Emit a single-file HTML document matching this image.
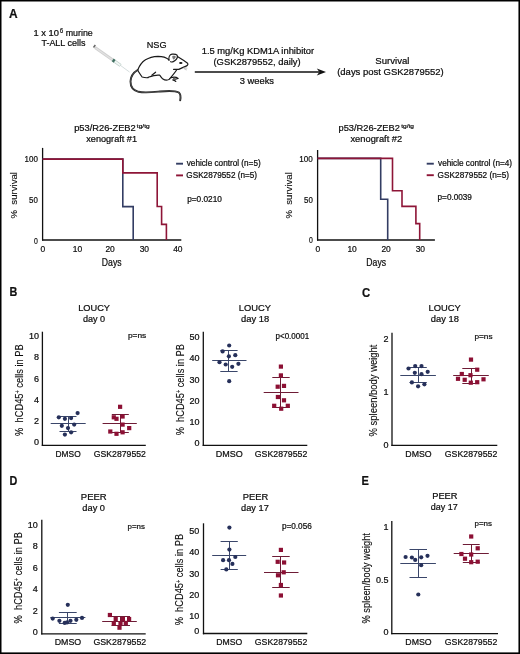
<!DOCTYPE html>
<html><head><meta charset="utf-8"><style>
html,body{margin:0;padding:0;background:#fff;}
body{width:520px;height:654px;overflow:hidden;}
svg{display:block;will-change:transform;}
#w{width:520px;height:654px;}
text{font-family:"Liberation Sans", sans-serif;stroke:currentColor;stroke-width:0.22px;}
</style></head><body>
<div id="w"><svg width="520" height="654" viewBox="0 0 520 654">
<rect width="520" height="654" fill="#fff"/>
<text x="9.09" y="17.50" font-size="13.0" font-weight="bold" fill="#111" color="#111" textLength="8.62" lengthAdjust="spacingAndGlyphs">A</text>
<text x="33.50" y="35.50" font-size="8.6" fill="#0d0d0d" color="#0d0d0d" textLength="25.46" lengthAdjust="spacingAndGlyphs">1 x 10</text>
<text x="59.97" y="33.20" font-size="6.6" fill="#0d0d0d" color="#0d0d0d" textLength="3.14" lengthAdjust="spacingAndGlyphs">6</text>
<text x="65.73" y="35.50" font-size="8.8" fill="#0d0d0d" color="#0d0d0d" textLength="27.08" lengthAdjust="spacingAndGlyphs">murine</text>
<text x="41.42" y="46.30" font-size="9.4" fill="#0d0d0d" color="#0d0d0d" textLength="44.08" lengthAdjust="spacingAndGlyphs">T-ALL cells</text>
<text x="146.72" y="47.60" font-size="9.3" fill="#0d0d0d" color="#0d0d0d" textLength="19.84" lengthAdjust="spacingAndGlyphs">NSG</text>
<text x="201.70" y="53.80" font-size="9.0" fill="#0d0d0d" color="#0d0d0d" textLength="112.49" lengthAdjust="spacingAndGlyphs">1.5 mg/Kg KDM1A inhibitor</text>
<text x="213.49" y="64.60" font-size="9.0" fill="#0d0d0d" color="#0d0d0d" textLength="87.15" lengthAdjust="spacingAndGlyphs">(GSK2879552, daily)</text>
<text x="239.78" y="84.40" font-size="9.0" fill="#0d0d0d" color="#0d0d0d" textLength="34.23" lengthAdjust="spacingAndGlyphs">3 weeks</text>
<text x="375.37" y="63.80" font-size="9.1" fill="#0d0d0d" color="#0d0d0d" textLength="34.12" lengthAdjust="spacingAndGlyphs">Survival</text>
<text x="337.18" y="75.00" font-size="9.1" fill="#0d0d0d" color="#0d0d0d" textLength="106.52" lengthAdjust="spacingAndGlyphs">(days post GSK2879552)</text>
<line x1="194.80" y1="72.00" x2="319.00" y2="72.00" stroke="#111" stroke-width="1.5"/>
<path d="M326,72 L316.8,68.6 L319.4,72 L316.8,75.6 Z" fill="#111"/>
<g stroke-linecap="butt">
<line x1="120" y1="65.1" x2="129.6" y2="72.1" stroke="#d6dede" stroke-width="1"/>
<line x1="95.0" y1="47.5" x2="112.8" y2="60.0" stroke="#cfcfcf" stroke-width="2.8"/>
<line x1="95.6" y1="47.9" x2="112.6" y2="59.9" stroke="#e2e2e2" stroke-width="1.2"/>
<line x1="114.4" y1="61.1" x2="120.6" y2="65.5" stroke="#bfcfca" stroke-width="3.3"/>
<line x1="114.6" y1="61.3" x2="120.3" y2="65.3" stroke="#f3f8f6" stroke-width="1.7"/>
<line x1="112.7" y1="59.9" x2="114.6" y2="61.3" stroke="#3f6f60" stroke-width="3.3"/>
<line x1="93.5" y1="47.5" x2="95.3" y2="45.0" stroke="#666" stroke-width="1.5"/>
</g>
<g fill="none" stroke="#1a1a1a" stroke-width="1.2" stroke-linecap="round" stroke-linejoin="round">
<path d="M137.6,70.2 C139.5,65.5 142,62 145.5,59.8 C149,57.6 153,56.5 158,56.3 C162,56.3 166,57.2 168.8,59.6"/>
<path d="M169,60.4 C168.5,57.4 169.6,54.6 172,54.2 C174.5,53.9 177.5,54.4 177.5,56.4 C177.3,58.6 175.6,60.5 173.3,61.6 C172.3,62.1 171.3,62.1 170.7,61.7"/>
<path d="M177.4,56.6 C180.5,58.5 184.5,61 187.6,63.2 C188.5,64.6 187.2,65.9 185.4,66.4 C183,67.3 181,68.3 178.8,69.4 L173.6,69.4"/>
<path d="M176.6,70 C175,72.6 172.4,75.6 169.6,78.8"/>
<path d="M171.2,77.6 C173.6,77 176.4,77.2 178.2,78.4 C177,79.4 175,79.1 173.6,78.9"/>
<path d="M172.8,79.8 C174.2,80.2 175.6,80.8 175.8,81.5"/>
<path d="M169.8,78.9 C168,80.4 165,80.5 162.6,78.8 C161.2,77.6 160.6,76.2 159.6,75.2 C157.2,74.7 152.4,75.8 148.2,77.3"/>
<path d="M151.8,75.2 L155.6,72.2"/>
<path d="M137.6,70.3 C139,72.5 140.6,75 142.1,77 C144.5,77.7 146.5,77.9 148.2,77.6"/>
</g>
<path d="M172.2,56.2 C173.5,55.4 175.6,55.6 175.8,56.8 C175.6,58.2 174.4,59.2 173.4,59.6 C172.8,58.6 172.2,57.6 172.2,56.2 Z" fill="#777"/>
<path d="M137.6,70.0 C133.5,72.5 130.6,76.5 130.5,81.5 C130.5,86.5 133.5,90.5 138.5,91.8 C145,93.2 153,92.2 160,91.5 C168,90.7 175,90.5 178.8,92.5 C180.6,94 180.8,97 180.2,100.3" fill="none" stroke="#222" stroke-width="1.9" stroke-linecap="round"/>
<path d="M137.6,70.0 C133.5,72.5 130.6,76.5 130.5,81.5 C130.5,86.5 133.5,90.5 138.5,91.8 C145,93.2 153,92.2 160,91.5 C168,90.7 175,90.5 178.8,92.5 C180.6,94 180.8,97 180.2,100.3" fill="none" stroke="#888" stroke-width="0.4"/>
<ellipse cx="180.8" cy="63.0" rx="1.7" ry="0.95" fill="#111"/>
<path d="M183,67.8 L187,69.3 M183.8,67.2 L187.4,68.2 M184,68.6 L186.4,70.2" stroke="#999" stroke-width="0.5" fill="none"/>
<line x1="42.60" y1="147.90" x2="42.60" y2="240.60" stroke="#111" stroke-width="1.3"/>
<line x1="42.00" y1="240.00" x2="181.30" y2="240.00" stroke="#111" stroke-width="1.3"/>
<text x="24.51" y="162.00" font-size="9.4" fill="#0d0d0d" color="#0d0d0d" textLength="13.35" lengthAdjust="spacingAndGlyphs">100</text>
<text x="29.03" y="203.40" font-size="9.4" fill="#0d0d0d" color="#0d0d0d" textLength="8.77" lengthAdjust="spacingAndGlyphs">50</text>
<text x="33.98" y="243.60" font-size="9.4" fill="#0d0d0d" color="#0d0d0d" textLength="3.82" lengthAdjust="spacingAndGlyphs">0</text>
<text x="40.43" y="251.70" font-size="9.4" fill="#0d0d0d" color="#0d0d0d" textLength="4.70" lengthAdjust="spacingAndGlyphs">0</text>
<text x="72.69" y="251.70" font-size="9.4" fill="#0d0d0d" color="#0d0d0d" textLength="9.41" lengthAdjust="spacingAndGlyphs">10</text>
<text x="105.42" y="251.70" font-size="9.4" fill="#0d0d0d" color="#0d0d0d" textLength="9.41" lengthAdjust="spacingAndGlyphs">20</text>
<text x="139.66" y="251.70" font-size="9.4" fill="#0d0d0d" color="#0d0d0d" textLength="9.41" lengthAdjust="spacingAndGlyphs">30</text>
<text x="173.15" y="251.70" font-size="9.4" fill="#0d0d0d" color="#0d0d0d" textLength="9.41" lengthAdjust="spacingAndGlyphs">40</text>
<text x="101.86" y="265.90" font-size="10.1" fill="#0d0d0d" color="#0d0d0d" textLength="19.72" lengthAdjust="spacingAndGlyphs">Days</text>
<text transform="translate(16.50,218.25) rotate(-90)" x="-0.29" y="0" font-size="9.2" fill="#0d0d0d" color="#0d0d0d" style="stroke-width:0.12px" textLength="46.51" lengthAdjust="spacingAndGlyphs" xml:space="preserve">%  survival</text>
<text x="74.19" y="130.90" font-size="8.9" fill="#0d0d0d" color="#0d0d0d" textLength="61.57" lengthAdjust="spacingAndGlyphs">p53/R26-ZEB2</text>
<text x="136.88" y="127.60" font-size="5.9" fill="#0d0d0d" color="#0d0d0d" textLength="12.80" lengthAdjust="spacingAndGlyphs">tg/tg</text>
<text x="86.26" y="142.10" font-size="8.9" fill="#0d0d0d" color="#0d0d0d" textLength="50.74" lengthAdjust="spacingAndGlyphs">xenograft #1</text>
<polyline points="42.60,159.10 122.80,159.10 122.80,206.60 133.20,206.60 133.20,240.00" fill="none" stroke="#333d63" stroke-width="1.6" stroke-linejoin="miter"/>
<polyline points="42.60,159.10 122.80,159.10 122.80,172.90 157.20,172.90 157.20,206.50 161.60,206.50 161.60,224.40 166.40,224.40 166.40,240.00" fill="none" stroke="#8e1537" stroke-width="1.6" stroke-linejoin="miter"/>
<line x1="176.10" y1="163.70" x2="183.00" y2="163.70" stroke="#333d63" stroke-width="1.9"/>
<line x1="176.10" y1="175.40" x2="183.00" y2="175.40" stroke="#8e1537" stroke-width="1.9"/>
<text x="186.75" y="166.10" font-size="8.2" fill="#0d0d0d" color="#0d0d0d" textLength="73.91" lengthAdjust="spacingAndGlyphs">vehicle control (n=5)</text>
<text x="186.34" y="178.20" font-size="8.2" fill="#0d0d0d" color="#0d0d0d" textLength="70.74" lengthAdjust="spacingAndGlyphs">GSK2879552 (n=5)</text>
<text x="187.15" y="201.70" font-size="8.2" fill="#0d0d0d" color="#0d0d0d" textLength="34.71" lengthAdjust="spacingAndGlyphs">p=0.0210</text>
<line x1="317.60" y1="150.00" x2="317.60" y2="240.60" stroke="#111" stroke-width="1.3"/>
<line x1="317.00" y1="240.00" x2="434.90" y2="240.00" stroke="#111" stroke-width="1.3"/>
<text x="299.30" y="161.60" font-size="9.4" fill="#0d0d0d" color="#0d0d0d" textLength="13.56" lengthAdjust="spacingAndGlyphs">100</text>
<text x="304.03" y="203.00" font-size="9.4" fill="#0d0d0d" color="#0d0d0d" textLength="8.77" lengthAdjust="spacingAndGlyphs">50</text>
<text x="308.98" y="243.00" font-size="9.4" fill="#0d0d0d" color="#0d0d0d" textLength="3.82" lengthAdjust="spacingAndGlyphs">0</text>
<text x="315.43" y="251.70" font-size="9.4" fill="#0d0d0d" color="#0d0d0d" textLength="4.70" lengthAdjust="spacingAndGlyphs">0</text>
<text x="347.39" y="251.70" font-size="9.4" fill="#0d0d0d" color="#0d0d0d" textLength="9.41" lengthAdjust="spacingAndGlyphs">10</text>
<text x="381.42" y="251.70" font-size="9.4" fill="#0d0d0d" color="#0d0d0d" textLength="9.41" lengthAdjust="spacingAndGlyphs">20</text>
<text x="415.66" y="251.70" font-size="9.4" fill="#0d0d0d" color="#0d0d0d" textLength="9.41" lengthAdjust="spacingAndGlyphs">30</text>
<text x="366.36" y="265.90" font-size="10.1" fill="#0d0d0d" color="#0d0d0d" textLength="19.72" lengthAdjust="spacingAndGlyphs">Days</text>
<text transform="translate(292.20,218.25) rotate(-90)" x="-0.29" y="0" font-size="9.2" fill="#0d0d0d" color="#0d0d0d" style="stroke-width:0.12px" textLength="46.30" lengthAdjust="spacingAndGlyphs" xml:space="preserve">%  survival</text>
<text x="338.49" y="130.90" font-size="8.9" fill="#0d0d0d" color="#0d0d0d" textLength="61.37" lengthAdjust="spacingAndGlyphs">p53/R26-ZEB2</text>
<text x="401.18" y="127.60" font-size="5.9" fill="#0d0d0d" color="#0d0d0d" textLength="12.80" lengthAdjust="spacingAndGlyphs">tg/tg</text>
<text x="350.46" y="142.10" font-size="8.9" fill="#0d0d0d" color="#0d0d0d" textLength="51.75" lengthAdjust="spacingAndGlyphs">xenograft #2</text>
<polyline points="317.60,158.40 380.70,158.40 380.70,199.30 387.70,199.30 387.70,240.00" fill="none" stroke="#333d63" stroke-width="1.6" stroke-linejoin="miter"/>
<polyline points="317.60,158.40 392.50,158.40 392.50,190.70 402.00,190.70 402.00,206.40 415.90,206.40 415.90,223.60 419.70,223.60 419.70,240.00" fill="none" stroke="#8e1537" stroke-width="1.6" stroke-linejoin="miter"/>
<line x1="426.70" y1="163.70" x2="433.80" y2="163.70" stroke="#333d63" stroke-width="1.9"/>
<line x1="426.70" y1="175.20" x2="433.80" y2="175.20" stroke="#8e1537" stroke-width="1.9"/>
<text x="438.05" y="166.10" font-size="8.2" fill="#0d0d0d" color="#0d0d0d" textLength="74.01" lengthAdjust="spacingAndGlyphs">vehicle control (n=4)</text>
<text x="437.64" y="178.00" font-size="8.2" fill="#0d0d0d" color="#0d0d0d" textLength="71.35" lengthAdjust="spacingAndGlyphs">GSK2879552 (n=5)</text>
<text x="437.56" y="200.20" font-size="8.2" fill="#0d0d0d" color="#0d0d0d" textLength="34.39" lengthAdjust="spacingAndGlyphs">p=0.0039</text>
<text x="9.49" y="296.10" font-size="13.0" font-weight="bold" fill="#111" color="#111" textLength="7.81" lengthAdjust="spacingAndGlyphs">B</text>
<text x="78.21" y="310.90" font-size="9.2" fill="#0d0d0d" color="#0d0d0d" textLength="31.77" lengthAdjust="spacingAndGlyphs">LOUCY</text>
<text x="82.89" y="321.90" font-size="9.2" fill="#0d0d0d" color="#0d0d0d" textLength="22.19" lengthAdjust="spacingAndGlyphs">day 0</text>
<line x1="42.40" y1="331.70" x2="42.40" y2="446.00" stroke="#111" stroke-width="1.3"/>
<line x1="41.80" y1="445.30" x2="145.80" y2="445.30" stroke="#111" stroke-width="1.3"/>
<text x="39.00" y="339.10" font-size="9.0" fill="#0d0d0d" color="#0d0d0d" text-anchor="end">10</text>
<text x="39.00" y="360.40" font-size="9.0" fill="#0d0d0d" color="#0d0d0d" text-anchor="end">8</text>
<text x="39.00" y="381.50" font-size="9.0" fill="#0d0d0d" color="#0d0d0d" text-anchor="end">6</text>
<text x="39.00" y="402.70" font-size="9.0" fill="#0d0d0d" color="#0d0d0d" text-anchor="end">4</text>
<text x="39.00" y="424.00" font-size="9.0" fill="#0d0d0d" color="#0d0d0d" text-anchor="end">2</text>
<text x="39.00" y="445.30" font-size="9.0" fill="#0d0d0d" color="#0d0d0d" text-anchor="end">0</text>
<text transform="translate(22.90,435.65) rotate(-90)" x="-0.28" y="0" font-size="10.6" fill="#0d0d0d" color="#0d0d0d" style="stroke-width:0.12px" textLength="91.71" lengthAdjust="spacingAndGlyphs" xml:space="preserve">%  hCD45<tspan font-size="6.4" dy="-2.7">+</tspan><tspan dy="2.7"> cells in PB</tspan></text>
<text x="127.95" y="337.70" font-size="7.8" fill="#0d0d0d" color="#0d0d0d" textLength="18.30" lengthAdjust="spacingAndGlyphs">p=ns</text>
<text x="55.58" y="456.80" font-size="8.9" fill="#0d0d0d" color="#0d0d0d" textLength="25.09" lengthAdjust="spacingAndGlyphs">DMSO</text>
<text x="93.82" y="456.80" font-size="8.9" fill="#0d0d0d" color="#0d0d0d" textLength="52.02" lengthAdjust="spacingAndGlyphs">GSK2879552</text>
<line x1="50.70" y1="423.50" x2="85.70" y2="423.50" stroke="#3a466a" stroke-width="1.0"/>
<line x1="59.50" y1="416.50" x2="76.50" y2="416.50" stroke="#3a466a" stroke-width="1.0"/>
<line x1="59.50" y1="431.50" x2="76.50" y2="431.50" stroke="#3a466a" stroke-width="1.0"/>
<line x1="68.50" y1="416.50" x2="68.50" y2="431.50" stroke="#3a466a" stroke-width="1.0"/>
<circle cx="77.60" cy="413.10" r="2.1" fill="#26305a"/>
<circle cx="58.80" cy="417.30" r="2.1" fill="#26305a"/>
<circle cx="64.90" cy="418.80" r="2.1" fill="#26305a"/>
<circle cx="71.10" cy="418.10" r="2.1" fill="#26305a"/>
<circle cx="61.80" cy="425.80" r="2.1" fill="#26305a"/>
<circle cx="74.20" cy="424.60" r="2.1" fill="#26305a"/>
<circle cx="68.00" cy="428.10" r="2.1" fill="#26305a"/>
<circle cx="71.10" cy="432.30" r="2.1" fill="#26305a"/>
<circle cx="64.90" cy="434.60" r="2.1" fill="#26305a"/>
<line x1="102.60" y1="423.50" x2="136.80" y2="423.50" stroke="#6e1c36" stroke-width="1.0"/>
<line x1="111.80" y1="414.50" x2="128.80" y2="414.50" stroke="#6e1c36" stroke-width="1.0"/>
<line x1="111.80" y1="432.50" x2="128.80" y2="432.50" stroke="#6e1c36" stroke-width="1.0"/>
<line x1="120.50" y1="414.50" x2="120.50" y2="432.50" stroke="#6e1c36" stroke-width="1.0"/>
<rect x="118.00" y="404.70" width="4.2" height="4.2" fill="#8c1034"/>
<rect x="111.70" y="415.20" width="4.2" height="4.2" fill="#8c1034"/>
<rect x="114.40" y="416.70" width="4.2" height="4.2" fill="#8c1034"/>
<rect x="120.50" y="414.40" width="4.2" height="4.2" fill="#8c1034"/>
<rect x="120.50" y="422.50" width="4.2" height="4.2" fill="#8c1034"/>
<rect x="127.10" y="426.00" width="4.2" height="4.2" fill="#8c1034"/>
<rect x="108.20" y="429.40" width="4.2" height="4.2" fill="#8c1034"/>
<rect x="114.40" y="431.70" width="4.2" height="4.2" fill="#8c1034"/>
<rect x="120.50" y="430.20" width="4.2" height="4.2" fill="#8c1034"/>
<text x="238.80" y="310.80" font-size="9.2" fill="#0d0d0d" color="#0d0d0d" textLength="32.18" lengthAdjust="spacingAndGlyphs">LOUCY</text>
<text x="241.07" y="321.80" font-size="9.2" fill="#0d0d0d" color="#0d0d0d" textLength="28.17" lengthAdjust="spacingAndGlyphs">day 18</text>
<line x1="203.30" y1="331.80" x2="203.30" y2="446.00" stroke="#111" stroke-width="1.3"/>
<line x1="202.70" y1="445.30" x2="307.30" y2="445.30" stroke="#111" stroke-width="1.3"/>
<text x="199.60" y="339.90" font-size="9.0" fill="#0d0d0d" color="#0d0d0d" text-anchor="end">50</text>
<text x="199.60" y="361.30" font-size="9.0" fill="#0d0d0d" color="#0d0d0d" text-anchor="end">40</text>
<text x="199.60" y="382.60" font-size="9.0" fill="#0d0d0d" color="#0d0d0d" text-anchor="end">30</text>
<text x="199.60" y="403.90" font-size="9.0" fill="#0d0d0d" color="#0d0d0d" text-anchor="end">20</text>
<text x="199.60" y="424.60" font-size="9.0" fill="#0d0d0d" color="#0d0d0d" text-anchor="end">10</text>
<text x="199.60" y="445.60" font-size="9.0" fill="#0d0d0d" color="#0d0d0d" text-anchor="end">0</text>
<text transform="translate(184.00,435.05) rotate(-90)" x="-0.28" y="0" font-size="10.6" fill="#0d0d0d" color="#0d0d0d" style="stroke-width:0.12px" textLength="91.31" lengthAdjust="spacingAndGlyphs" xml:space="preserve">%  hCD45<tspan font-size="6.4" dy="-2.7">+</tspan><tspan dy="2.7"> cells in PB</tspan></text>
<text x="275.57" y="339.00" font-size="8.4" fill="#0d0d0d" color="#0d0d0d" textLength="33.57" lengthAdjust="spacingAndGlyphs">p&lt;0.0001</text>
<text x="215.83" y="456.80" font-size="8.9" fill="#0d0d0d" color="#0d0d0d" textLength="26.97" lengthAdjust="spacingAndGlyphs">DMSO</text>
<text x="254.81" y="456.80" font-size="8.9" fill="#0d0d0d" color="#0d0d0d" textLength="52.53" lengthAdjust="spacingAndGlyphs">GSK2879552</text>
<line x1="212.20" y1="360.50" x2="246.50" y2="360.50" stroke="#3a466a" stroke-width="1.0"/>
<line x1="220.30" y1="350.50" x2="237.60" y2="350.50" stroke="#3a466a" stroke-width="1.0"/>
<line x1="220.30" y1="371.50" x2="237.60" y2="371.50" stroke="#3a466a" stroke-width="1.0"/>
<line x1="228.50" y1="350.50" x2="228.50" y2="371.50" stroke="#3a466a" stroke-width="1.0"/>
<circle cx="229.20" cy="345.50" r="2.1" fill="#26305a"/>
<circle cx="222.60" cy="351.40" r="2.1" fill="#26305a"/>
<circle cx="235.30" cy="355.20" r="2.1" fill="#26305a"/>
<circle cx="228.90" cy="356.30" r="2.1" fill="#26305a"/>
<circle cx="219.50" cy="362.20" r="2.1" fill="#26305a"/>
<circle cx="225.70" cy="364.50" r="2.1" fill="#26305a"/>
<circle cx="238.40" cy="363.80" r="2.1" fill="#26305a"/>
<circle cx="232.20" cy="366.80" r="2.1" fill="#26305a"/>
<circle cx="229.20" cy="381.20" r="2.1" fill="#26305a"/>
<line x1="263.70" y1="392.50" x2="298.50" y2="392.50" stroke="#6e1c36" stroke-width="1.0"/>
<line x1="272.30" y1="377.50" x2="289.70" y2="377.50" stroke="#6e1c36" stroke-width="1.0"/>
<line x1="272.30" y1="407.50" x2="289.70" y2="407.50" stroke="#6e1c36" stroke-width="1.0"/>
<line x1="280.50" y1="377.50" x2="280.50" y2="407.50" stroke="#6e1c36" stroke-width="1.0"/>
<rect x="278.80" y="364.50" width="4.2" height="4.2" fill="#8c1034"/>
<rect x="278.80" y="373.30" width="4.2" height="4.2" fill="#8c1034"/>
<rect x="275.60" y="384.60" width="4.2" height="4.2" fill="#8c1034"/>
<rect x="281.90" y="383.80" width="4.2" height="4.2" fill="#8c1034"/>
<rect x="275.80" y="394.90" width="4.2" height="4.2" fill="#8c1034"/>
<rect x="281.90" y="398.20" width="4.2" height="4.2" fill="#8c1034"/>
<rect x="272.10" y="403.70" width="4.2" height="4.2" fill="#8c1034"/>
<rect x="279.10" y="406.60" width="4.2" height="4.2" fill="#8c1034"/>
<rect x="285.70" y="403.70" width="4.2" height="4.2" fill="#8c1034"/>
<text x="361.89" y="296.90" font-size="13.0" font-weight="bold" fill="#111" color="#111" textLength="8.22" lengthAdjust="spacingAndGlyphs">C</text>
<text x="428.50" y="311.20" font-size="9.2" fill="#0d0d0d" color="#0d0d0d" textLength="32.18" lengthAdjust="spacingAndGlyphs">LOUCY</text>
<text x="430.78" y="322.40" font-size="9.2" fill="#0d0d0d" color="#0d0d0d" textLength="28.07" lengthAdjust="spacingAndGlyphs">day 18</text>
<line x1="392.00" y1="332.80" x2="392.00" y2="446.00" stroke="#111" stroke-width="1.3"/>
<line x1="391.40" y1="445.40" x2="497.30" y2="445.40" stroke="#111" stroke-width="1.3"/>
<text x="388.60" y="342.30" font-size="9.0" fill="#0d0d0d" color="#0d0d0d" text-anchor="end">2</text>
<text x="388.60" y="395.20" font-size="9.0" fill="#0d0d0d" color="#0d0d0d" text-anchor="end">1</text>
<text x="388.60" y="448.10" font-size="9.0" fill="#0d0d0d" color="#0d0d0d" text-anchor="end">0</text>
<text transform="translate(376.90,436.15) rotate(-90)" x="-0.28" y="0" font-size="10.4" fill="#0d0d0d" color="#0d0d0d" style="stroke-width:0.12px" textLength="91.86" lengthAdjust="spacingAndGlyphs" xml:space="preserve">% spleen/body weight</text>
<text x="474.46" y="338.50" font-size="7.8" fill="#0d0d0d" color="#0d0d0d" textLength="18.09" lengthAdjust="spacingAndGlyphs">p=ns</text>
<text x="405.35" y="456.80" font-size="8.9" fill="#0d0d0d" color="#0d0d0d" textLength="26.24" lengthAdjust="spacingAndGlyphs">DMSO</text>
<text x="444.81" y="456.80" font-size="8.9" fill="#0d0d0d" color="#0d0d0d" textLength="52.53" lengthAdjust="spacingAndGlyphs">GSK2879552</text>
<line x1="400.30" y1="375.50" x2="435.90" y2="375.50" stroke="#3a466a" stroke-width="1.0"/>
<line x1="409.50" y1="367.50" x2="426.80" y2="367.50" stroke="#3a466a" stroke-width="1.0"/>
<line x1="409.50" y1="382.50" x2="426.80" y2="382.50" stroke="#3a466a" stroke-width="1.0"/>
<line x1="418.50" y1="367.50" x2="418.50" y2="382.50" stroke="#3a466a" stroke-width="1.0"/>
<circle cx="408.50" cy="368.50" r="2.1" fill="#26305a"/>
<circle cx="415.20" cy="366.10" r="2.1" fill="#26305a"/>
<circle cx="421.50" cy="366.10" r="2.1" fill="#26305a"/>
<circle cx="414.80" cy="372.80" r="2.1" fill="#26305a"/>
<circle cx="421.50" cy="374.20" r="2.1" fill="#26305a"/>
<circle cx="427.70" cy="371.80" r="2.1" fill="#26305a"/>
<circle cx="411.90" cy="382.40" r="2.1" fill="#26305a"/>
<circle cx="418.10" cy="386.30" r="2.1" fill="#26305a"/>
<circle cx="424.40" cy="384.30" r="2.1" fill="#26305a"/>
<line x1="453.20" y1="375.50" x2="488.80" y2="375.50" stroke="#6e1c36" stroke-width="1.0"/>
<line x1="462.30" y1="368.50" x2="479.10" y2="368.50" stroke="#6e1c36" stroke-width="1.0"/>
<line x1="462.30" y1="383.50" x2="479.10" y2="383.50" stroke="#6e1c36" stroke-width="1.0"/>
<line x1="471.50" y1="368.50" x2="471.50" y2="383.50" stroke="#6e1c36" stroke-width="1.0"/>
<rect x="468.90" y="357.50" width="4.2" height="4.2" fill="#8c1034"/>
<rect x="475.10" y="367.60" width="4.2" height="4.2" fill="#8c1034"/>
<rect x="459.70" y="371.90" width="4.2" height="4.2" fill="#8c1034"/>
<rect x="468.40" y="373.10" width="4.2" height="4.2" fill="#8c1034"/>
<rect x="455.90" y="376.70" width="4.2" height="4.2" fill="#8c1034"/>
<rect x="462.60" y="377.70" width="4.2" height="4.2" fill="#8c1034"/>
<rect x="481.40" y="377.20" width="4.2" height="4.2" fill="#8c1034"/>
<rect x="468.70" y="380.60" width="4.2" height="4.2" fill="#8c1034"/>
<rect x="475.10" y="380.10" width="4.2" height="4.2" fill="#8c1034"/>
<text x="9.49" y="484.60" font-size="13.0" font-weight="bold" fill="#111" color="#111" textLength="7.81" lengthAdjust="spacingAndGlyphs">D</text>
<text x="80.79" y="500.00" font-size="9.2" fill="#0d0d0d" color="#0d0d0d" textLength="25.97" lengthAdjust="spacingAndGlyphs">PEER</text>
<text x="82.38" y="510.80" font-size="9.2" fill="#0d0d0d" color="#0d0d0d" textLength="22.60" lengthAdjust="spacingAndGlyphs">day 0</text>
<line x1="41.80" y1="519.80" x2="41.80" y2="634.50" stroke="#111" stroke-width="1.3"/>
<line x1="41.20" y1="633.80" x2="145.70" y2="633.80" stroke="#111" stroke-width="1.3"/>
<text x="37.70" y="528.00" font-size="9.0" fill="#0d0d0d" color="#0d0d0d" text-anchor="end">10</text>
<text x="37.70" y="549.40" font-size="9.0" fill="#0d0d0d" color="#0d0d0d" text-anchor="end">8</text>
<text x="37.70" y="570.70" font-size="9.0" fill="#0d0d0d" color="#0d0d0d" text-anchor="end">6</text>
<text x="37.70" y="592.10" font-size="9.0" fill="#0d0d0d" color="#0d0d0d" text-anchor="end">4</text>
<text x="37.70" y="613.60" font-size="9.0" fill="#0d0d0d" color="#0d0d0d" text-anchor="end">2</text>
<text x="37.70" y="634.60" font-size="9.0" fill="#0d0d0d" color="#0d0d0d" text-anchor="end">0</text>
<text transform="translate(21.60,623.15) rotate(-90)" x="-0.28" y="0" font-size="10.6" fill="#0d0d0d" color="#0d0d0d" style="stroke-width:0.12px" textLength="91.41" lengthAdjust="spacingAndGlyphs" xml:space="preserve">%  hCD45<tspan font-size="6.4" dy="-2.7">+</tspan><tspan dy="2.7"> cells in PB</tspan></text>
<text x="127.58" y="528.90" font-size="7.8" fill="#0d0d0d" color="#0d0d0d" textLength="17.36" lengthAdjust="spacingAndGlyphs">p=ns</text>
<text x="54.64" y="644.90" font-size="9.1" fill="#0d0d0d" color="#0d0d0d" textLength="26.55" lengthAdjust="spacingAndGlyphs">DMSO</text>
<text x="93.41" y="644.90" font-size="9.1" fill="#0d0d0d" color="#0d0d0d" textLength="52.83" lengthAdjust="spacingAndGlyphs">GSK2879552</text>
<line x1="50.30" y1="617.50" x2="85.40" y2="617.50" stroke="#3a466a" stroke-width="1.0"/>
<line x1="58.90" y1="612.50" x2="76.70" y2="612.50" stroke="#3a466a" stroke-width="1.0"/>
<line x1="58.90" y1="623.50" x2="76.70" y2="623.50" stroke="#3a466a" stroke-width="1.0"/>
<line x1="67.50" y1="612.50" x2="67.50" y2="623.50" stroke="#3a466a" stroke-width="1.0"/>
<circle cx="67.80" cy="604.80" r="2.1" fill="#26305a"/>
<circle cx="52.70" cy="618.60" r="2.1" fill="#26305a"/>
<circle cx="59.40" cy="620.80" r="2.1" fill="#26305a"/>
<circle cx="64.70" cy="622.90" r="2.1" fill="#26305a"/>
<circle cx="67.10" cy="622.40" r="2.1" fill="#26305a"/>
<circle cx="70.50" cy="620.80" r="2.1" fill="#26305a"/>
<circle cx="76.30" cy="619.80" r="2.1" fill="#26305a"/>
<circle cx="82.00" cy="617.90" r="2.1" fill="#26305a"/>
<line x1="102.20" y1="621.50" x2="136.80" y2="621.50" stroke="#6e1c36" stroke-width="1.0"/>
<line x1="111.50" y1="616.50" x2="130.00" y2="616.50" stroke="#6e1c36" stroke-width="1.0"/>
<line x1="111.50" y1="625.50" x2="130.00" y2="625.50" stroke="#6e1c36" stroke-width="1.0"/>
<line x1="120.50" y1="616.50" x2="120.50" y2="625.50" stroke="#6e1c36" stroke-width="1.0"/>
<rect x="107.80" y="612.90" width="4.2" height="4.2" fill="#8c1034"/>
<rect x="113.60" y="616.90" width="4.2" height="4.2" fill="#8c1034"/>
<rect x="120.80" y="616.90" width="4.2" height="4.2" fill="#8c1034"/>
<rect x="127.00" y="616.90" width="4.2" height="4.2" fill="#8c1034"/>
<rect x="111.70" y="621.30" width="4.2" height="4.2" fill="#8c1034"/>
<rect x="118.40" y="621.30" width="4.2" height="4.2" fill="#8c1034"/>
<rect x="123.70" y="620.80" width="4.2" height="4.2" fill="#8c1034"/>
<rect x="117.40" y="625.60" width="4.2" height="4.2" fill="#8c1034"/>
<text x="242.70" y="499.60" font-size="9.2" fill="#0d0d0d" color="#0d0d0d" textLength="25.55" lengthAdjust="spacingAndGlyphs">PEER</text>
<text x="241.08" y="510.70" font-size="9.2" fill="#0d0d0d" color="#0d0d0d" textLength="27.76" lengthAdjust="spacingAndGlyphs">day 17</text>
<line x1="203.50" y1="523.30" x2="203.50" y2="634.30" stroke="#111" stroke-width="1.3"/>
<line x1="202.90" y1="633.50" x2="307.30" y2="633.50" stroke="#111" stroke-width="1.3"/>
<text x="199.30" y="534.00" font-size="9.0" fill="#0d0d0d" color="#0d0d0d" text-anchor="end">50</text>
<text x="199.30" y="555.30" font-size="9.0" fill="#0d0d0d" color="#0d0d0d" text-anchor="end">40</text>
<text x="199.30" y="576.60" font-size="9.0" fill="#0d0d0d" color="#0d0d0d" text-anchor="end">30</text>
<text x="199.30" y="597.70" font-size="9.0" fill="#0d0d0d" color="#0d0d0d" text-anchor="end">20</text>
<text x="199.30" y="618.80" font-size="9.0" fill="#0d0d0d" color="#0d0d0d" text-anchor="end">10</text>
<text x="199.30" y="634.40" font-size="9.0" fill="#0d0d0d" color="#0d0d0d" text-anchor="end">0</text>
<text transform="translate(183.30,625.05) rotate(-90)" x="-0.28" y="0" font-size="10.6" fill="#0d0d0d" color="#0d0d0d" style="stroke-width:0.12px" textLength="91.41" lengthAdjust="spacingAndGlyphs" xml:space="preserve">%  hCD45<tspan font-size="6.4" dy="-2.7">+</tspan><tspan dy="2.7"> cells in PB</tspan></text>
<text x="281.96" y="529.10" font-size="8.2" fill="#0d0d0d" color="#0d0d0d" textLength="29.84" lengthAdjust="spacingAndGlyphs">p=0.056</text>
<text x="216.26" y="644.90" font-size="9.1" fill="#0d0d0d" color="#0d0d0d" textLength="26.03" lengthAdjust="spacingAndGlyphs">DMSO</text>
<text x="254.81" y="644.90" font-size="9.1" fill="#0d0d0d" color="#0d0d0d" textLength="52.53" lengthAdjust="spacingAndGlyphs">GSK2879552</text>
<line x1="212.20" y1="555.50" x2="246.20" y2="555.50" stroke="#3a466a" stroke-width="1.0"/>
<line x1="220.60" y1="541.50" x2="237.80" y2="541.50" stroke="#3a466a" stroke-width="1.0"/>
<line x1="220.60" y1="569.50" x2="237.80" y2="569.50" stroke="#3a466a" stroke-width="1.0"/>
<line x1="229.50" y1="541.50" x2="229.50" y2="569.50" stroke="#3a466a" stroke-width="1.0"/>
<circle cx="229.40" cy="527.60" r="2.1" fill="#26305a"/>
<circle cx="229.40" cy="549.60" r="2.1" fill="#26305a"/>
<circle cx="235.30" cy="557.00" r="2.1" fill="#26305a"/>
<circle cx="223.10" cy="560.20" r="2.1" fill="#26305a"/>
<circle cx="229.00" cy="560.20" r="2.1" fill="#26305a"/>
<circle cx="232.40" cy="563.90" r="2.1" fill="#26305a"/>
<circle cx="226.30" cy="569.40" r="2.1" fill="#26305a"/>
<line x1="264.00" y1="572.50" x2="298.50" y2="572.50" stroke="#6e1c36" stroke-width="1.0"/>
<line x1="272.20" y1="556.50" x2="289.70" y2="556.50" stroke="#6e1c36" stroke-width="1.0"/>
<line x1="272.20" y1="587.50" x2="289.70" y2="587.50" stroke="#6e1c36" stroke-width="1.0"/>
<line x1="280.50" y1="556.50" x2="280.50" y2="587.50" stroke="#6e1c36" stroke-width="1.0"/>
<rect x="278.80" y="547.80" width="4.2" height="4.2" fill="#8c1034"/>
<rect x="275.60" y="559.70" width="4.2" height="4.2" fill="#8c1034"/>
<rect x="282.00" y="560.40" width="4.2" height="4.2" fill="#8c1034"/>
<rect x="281.60" y="570.20" width="4.2" height="4.2" fill="#8c1034"/>
<rect x="275.90" y="573.20" width="4.2" height="4.2" fill="#8c1034"/>
<rect x="278.80" y="582.90" width="4.2" height="4.2" fill="#8c1034"/>
<rect x="278.80" y="593.40" width="4.2" height="4.2" fill="#8c1034"/>
<text x="361.58" y="484.90" font-size="13.0" font-weight="bold" fill="#111" color="#111" textLength="7.38" lengthAdjust="spacingAndGlyphs">E</text>
<text x="432.21" y="499.20" font-size="9.2" fill="#0d0d0d" color="#0d0d0d" textLength="25.34" lengthAdjust="spacingAndGlyphs">PEER</text>
<text x="430.79" y="509.90" font-size="9.2" fill="#0d0d0d" color="#0d0d0d" textLength="26.94" lengthAdjust="spacingAndGlyphs">day 17</text>
<line x1="391.80" y1="521.00" x2="391.80" y2="634.30" stroke="#111" stroke-width="1.3"/>
<line x1="391.20" y1="633.60" x2="498.00" y2="633.60" stroke="#111" stroke-width="1.3"/>
<text x="388.40" y="530.00" font-size="9.0" fill="#0d0d0d" color="#0d0d0d" text-anchor="end">1</text>
<text x="388.40" y="582.70" font-size="9.0" fill="#0d0d0d" color="#0d0d0d" text-anchor="end">0.5</text>
<text x="388.40" y="635.40" font-size="9.0" fill="#0d0d0d" color="#0d0d0d" text-anchor="end">0</text>
<text transform="translate(370.40,623.25) rotate(-90)" x="-0.28" y="0" font-size="10.4" fill="#0d0d0d" color="#0d0d0d" style="stroke-width:0.12px" textLength="90.45" lengthAdjust="spacingAndGlyphs" xml:space="preserve">% spleen/body weight</text>
<text x="474.47" y="526.20" font-size="7.8" fill="#0d0d0d" color="#0d0d0d" textLength="17.47" lengthAdjust="spacingAndGlyphs">p=ns</text>
<text x="405.35" y="644.90" font-size="9.1" fill="#0d0d0d" color="#0d0d0d" textLength="26.24" lengthAdjust="spacingAndGlyphs">DMSO</text>
<text x="444.81" y="644.90" font-size="9.1" fill="#0d0d0d" color="#0d0d0d" textLength="52.53" lengthAdjust="spacingAndGlyphs">GSK2879552</text>
<line x1="400.30" y1="563.50" x2="435.90" y2="563.50" stroke="#3a466a" stroke-width="1.0"/>
<line x1="409.50" y1="549.50" x2="427.00" y2="549.50" stroke="#3a466a" stroke-width="1.0"/>
<line x1="409.50" y1="577.50" x2="427.00" y2="577.50" stroke="#3a466a" stroke-width="1.0"/>
<line x1="418.50" y1="549.50" x2="418.50" y2="577.50" stroke="#3a466a" stroke-width="1.0"/>
<circle cx="405.60" cy="557.00" r="2.1" fill="#26305a"/>
<circle cx="411.90" cy="557.50" r="2.1" fill="#26305a"/>
<circle cx="415.20" cy="559.90" r="2.1" fill="#26305a"/>
<circle cx="421.20" cy="557.30" r="2.1" fill="#26305a"/>
<circle cx="427.50" cy="555.80" r="2.1" fill="#26305a"/>
<circle cx="421.20" cy="565.20" r="2.1" fill="#26305a"/>
<circle cx="418.30" cy="594.50" r="2.1" fill="#26305a"/>
<line x1="453.70" y1="553.50" x2="488.80" y2="553.50" stroke="#6e1c36" stroke-width="1.0"/>
<line x1="462.80" y1="544.50" x2="479.70" y2="544.50" stroke="#6e1c36" stroke-width="1.0"/>
<line x1="462.80" y1="562.50" x2="479.70" y2="562.50" stroke="#6e1c36" stroke-width="1.0"/>
<line x1="471.50" y1="544.50" x2="471.50" y2="562.50" stroke="#6e1c36" stroke-width="1.0"/>
<rect x="469.10" y="534.40" width="4.2" height="4.2" fill="#8c1034"/>
<rect x="475.60" y="546.20" width="4.2" height="4.2" fill="#8c1034"/>
<rect x="459.30" y="551.90" width="4.2" height="4.2" fill="#8c1034"/>
<rect x="469.10" y="552.40" width="4.2" height="4.2" fill="#8c1034"/>
<rect x="462.90" y="556.60" width="4.2" height="4.2" fill="#8c1034"/>
<rect x="469.10" y="560.10" width="4.2" height="4.2" fill="#8c1034"/>
<rect x="475.60" y="559.60" width="4.2" height="4.2" fill="#8c1034"/>
<rect x="0" y="0" width="520" height="1.5" fill="#000"/>
<rect x="0" y="0" width="1.5" height="654" fill="#000"/>
<rect x="518.45" y="0" width="1.55" height="654" fill="#000"/>
<rect x="0" y="652.4" width="520" height="1.6" fill="#000"/>
</svg></div>
</body></html>
